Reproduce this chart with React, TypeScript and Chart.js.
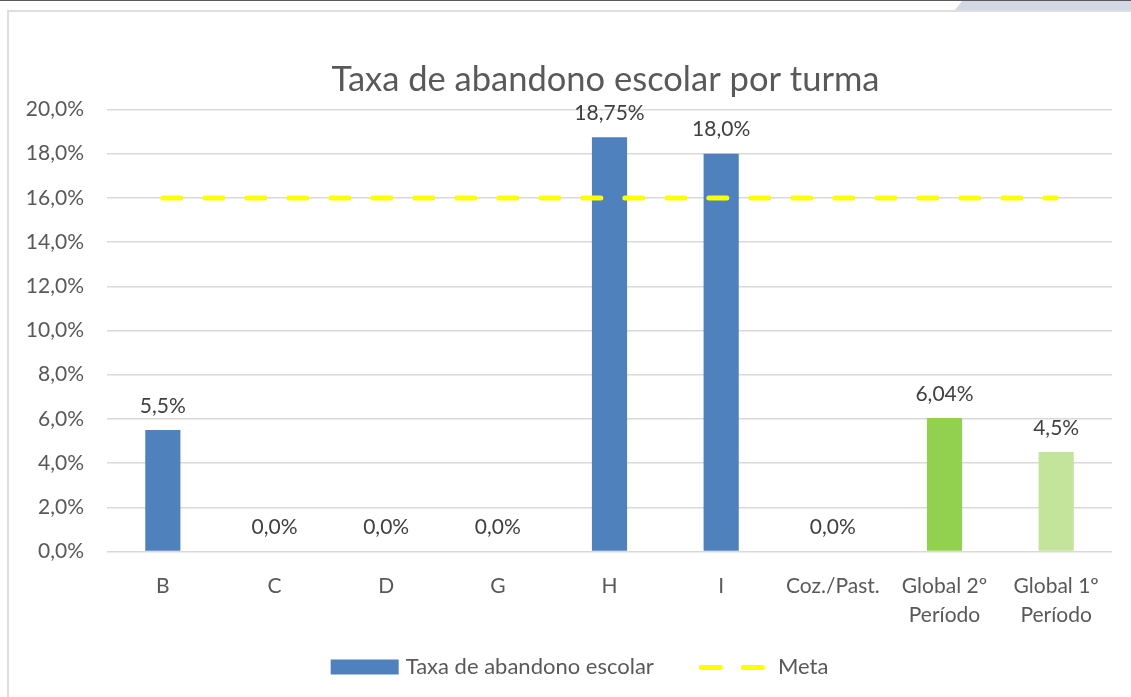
import React, { useEffect, useRef } from "react";
import { Chart, registerables } from "chart.js";

Chart.register(...registerables);

// ---------- data ----------
const categories: (string | string[])[] = [
  "B",
  "C",
  "D",
  "G",
  "H",
  "I",
  "Coz./Past.",
  ["Global 2º", "Período"],
  ["Global 1º", "Período"],
];
const dropoutRates = [5.5, 0, 0, 0, 18.75, 18.0, 0, 6.04, 4.5];
const dropoutLabels = ["5,5%", "0,0%", "0,0%", "0,0%", "18,75%", "18,0%", "0,0%", "6,04%", "4,5%"];
const targetRates = [16, 16, 16, 16, 16, 16, 16, 16, 16];
const barColors = [
  "#4F81BD",
  "#4F81BD",
  "#4F81BD",
  "#4F81BD",
  "#4F81BD",
  "#4F81BD",
  "#4F81BD",
  "#92D050",
  "#C3E49B",
];
const seriesNames = ["Taxa de abandono escolar", "Meta"];
const titleText = "Taxa de abandono escolar por turma";
const yMin = 0;
const yMax = 20;
const yStep = 2;

// ---------- styles ----------
const FONT = 'Lato, "Open Sans", sans-serif';
const TEXT = "#595959";
const LABEL = "#404040";
const GRID = "#D9D9D9";
const META_COLOR = "#FFFF00";

const fmtPct = (v: number) => v.toFixed(1).replace(".", ",") + "%";

const overlayPlugin = {
  id: "overlay",
  afterDatasetsDraw(chart: any) {
    const ctx = chart.ctx as CanvasRenderingContext2D;
    const meta = chart.getDatasetMeta(1);
    ctx.save();
    ctx.font = `21px ${FONT}`;
    ctx.fillStyle = LABEL;
    ctx.textAlign = "center";
    ctx.textBaseline = "middle";
    meta.data.forEach((el: any, i: number) => {
      ctx.fillText(dropoutLabels[i], el.x, el.y - 24);
    });
    ctx.restore();
  },
  afterDraw(chart: any) {
    const ctx = chart.ctx as CanvasRenderingContext2D;
    const area = chart.chartArea;
    ctx.save();
    // title
    ctx.font = `34.5px ${FONT}`;
    ctx.fillStyle = TEXT;
    ctx.textAlign = "center";
    ctx.textBaseline = "middle";
    ctx.fillText(titleText, (area.left + area.right) / 2 - 4, area.top - 30);

    // legend
    ctx.font = `22px ${FONT}`;
    const w1 = ctx.measureText(seriesNames[0]).width;
    const w2 = ctx.measureText(seriesNames[1]).width;
    const boxW = 68;
    const lineW = 66;
    const total = boxW + 7 + w1 + 45 + lineW + 13 + w2;
    const cx = (area.left + area.right) / 2 - 30;
    const y = area.bottom + 115;
    let x = cx - total / 2;
    ctx.fillStyle = barColors[0];
    ctx.fillRect(x, y - 7, boxW, 15);
    x += boxW + 7;
    ctx.fillStyle = TEXT;
    ctx.textAlign = "left";
    ctx.fillText(seriesNames[0], x, y);
    x += w1 + 45;
    ctx.strokeStyle = META_COLOR;
    ctx.lineWidth = 5;
    ctx.lineCap = "round";
    ctx.setLineDash([19, 23]);
    ctx.beginPath();
    ctx.moveTo(x + 2.5, y + 1);
    ctx.lineTo(x + 2.5 + 61, y + 1);
    ctx.stroke();
    ctx.setLineDash([]);
    x += lineW + 13;
    ctx.fillStyle = TEXT;
    ctx.fillText(seriesNames[1], x, y);
    ctx.restore();
  },
};

export default function App() {
  const canvasRef = useRef<HTMLCanvasElement | null>(null);

  useEffect(() => {
    const canvas = canvasRef.current;
    if (!canvas) return;
    const chart = new Chart(canvas, {
      type: "bar",
      data: {
        labels: categories as any,
        datasets: [
          {
            type: "line",
            label: seriesNames[1],
            data: targetRates,
            borderColor: META_COLOR,
            backgroundColor: META_COLOR,
            borderWidth: 5,
            borderDash: [18, 24],
            borderCapStyle: "round",
            pointRadius: 0,
            pointHoverRadius: 0,
            fill: false,
            order: 0,
          } as any,
          {
            type: "bar",
            label: seriesNames[0],
            data: dropoutRates,
            backgroundColor: barColors,
            borderWidth: 0,
            categoryPercentage: 1,
            barPercentage: 0.315,
            order: 1,
          } as any,
        ],
      },
      plugins: [overlayPlugin],
      options: {
        responsive: false,
        animation: false,
        events: [],
        layout: { padding: { top: 96.5, left: 0, right: 19, bottom: 0 } },
        plugins: {
          legend: { display: false },
          title: { display: false },
          tooltip: { enabled: false },
        },
        scales: {
          x: {
            grid: { display: false },
            border: { display: false },
            ticks: {
              color: TEXT,
              font: { family: FONT, size: 21, lineHeight: 1.35 },
              padding: 13,
              maxRotation: 0,
              autoSkip: false,
            },
            afterFit: (scale: any) => {
              scale.height = 145.5;
            },
          },
          y: {
            min: yMin,
            max: yMax,
            grid: { color: GRID, lineWidth: 1.5, drawTicks: false },
            border: { display: false },
            ticks: {
              stepSize: yStep,
              color: TEXT,
              font: { family: FONT, size: 21 },
              padding: 23,
              callback: (v: any) => fmtPct(Number(v)),
            },
            afterFit: (scale: any) => {
              scale.width = 97;
            },
          },
        },
      },
    });
    return () => chart.destroy();
  }, []);

  return (
    <div
      style={{
        position: "fixed",
        left: 0,
        top: 0,
        width: 1131,
        height: 697,
        overflow: "hidden",
        background: "#ffffff",
      }}
    >
      <div style={{ position: "absolute", left: 0, top: 0, width: 1131, height: 1, background: "#595959" }} />
      <div
        style={{
          position: "absolute",
          left: 955,
          top: 1,
          width: 176,
          height: 9,
          background: "#D3D8E4",
          clipPath: "polygon(4% 0, 100% 0, 100% 100%, 0 100%)",
        }}
      />
      <div
        style={{
          position: "absolute",
          left: 7,
          top: 10,
          width: 1200,
          height: 720,
          border: "2px solid #DEDEDE",
          boxSizing: "border-box",
        }}
      />
      <canvas
        ref={canvasRef}
        width={1121}
        height={684}
        style={{ position: "absolute", left: 10, top: 13, width: 1121, height: 684 }}
      />
    </div>
  );
}
